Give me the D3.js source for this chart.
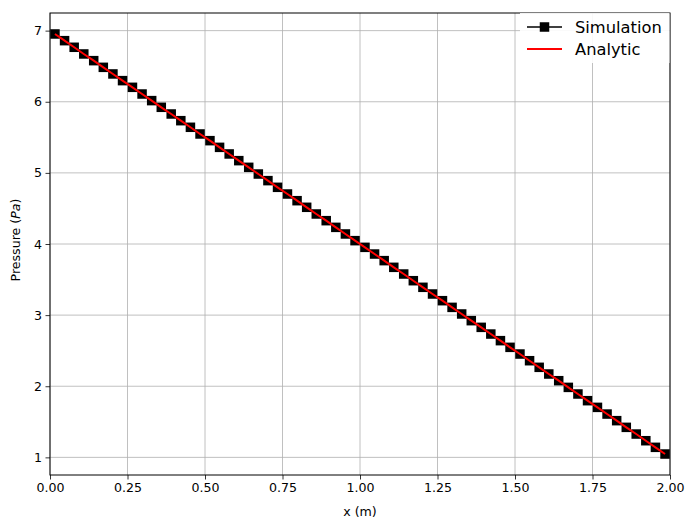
<!DOCTYPE html>
<html><head><meta charset="utf-8">
<script src="https://cdn.jsdelivr.net/npm/d3@7"></script>
<style>
html,body{margin:0;padding:0;background:#fff;}
svg{display:block;font-family:"DejaVu Sans",sans-serif;}
</style></head>
<body>
<svg id="chart" width="695" height="528"></svg>
<script>
const xPos = [0.016,0.047,0.078,0.109,0.141,0.172,0.203,0.234,0.266,0.297,0.328,0.359,0.391,0.422,0.453,0.484,
0.516,0.547,0.578,0.609,0.641,0.672,0.703,0.734,0.766,0.797,0.828,0.859,0.891,0.922,0.953,0.984,
1.016,1.047,1.078,1.109,1.141,1.172,1.203,1.234,1.266,1.297,1.328,1.359,1.391,1.422,1.453,1.484,
1.516,1.547,1.578,1.609,1.641,1.672,1.703,1.734,1.766,1.797,1.828,1.859,1.891,1.922,1.953,1.984];
const simulation = [6.953,6.859,6.766,6.672,6.578,6.484,6.391,6.297,6.203,6.109,6.016,5.922,5.828,5.734,5.641,5.547,
5.453,5.359,5.266,5.172,5.078,4.984,4.891,4.797,4.703,4.609,4.516,4.422,4.328,4.234,4.141,4.047,
3.953,3.859,3.766,3.672,3.578,3.484,3.391,3.297,3.203,3.109,3.016,2.922,2.828,2.734,2.641,2.547,
2.453,2.359,2.266,2.172,2.078,1.984,1.891,1.797,1.703,1.609,1.516,1.422,1.328,1.234,1.141,1.047];
const analytic = [6.953,6.859,6.766,6.672,6.578,6.484,6.391,6.297,6.203,6.109,6.016,5.922,5.828,5.734,5.641,5.547,
5.453,5.359,5.266,5.172,5.078,4.984,4.891,4.797,4.703,4.609,4.516,4.422,4.328,4.234,4.141,4.047,
3.953,3.859,3.766,3.672,3.578,3.484,3.391,3.297,3.203,3.109,3.016,2.922,2.828,2.734,2.641,2.547,
2.453,2.359,2.266,2.172,2.078,1.984,1.891,1.797,1.703,1.609,1.516,1.422,1.328,1.234,1.141,1.047];
const xTicks = [0,0.25,0.5,0.75,1.0,1.25,1.5,1.75,2.0];
const yTicks = [1,2,3,4,5,6,7];
const legendLabels = ["Simulation","Analytic"];

const L=50, R=670, T=13, B=475;
const svg = d3.select("#chart");
const x = d3.scaleLinear().domain([0,2]).range([L,R]);
const y = d3.scaleLinear().domain([0.752,7.248]).range([B,T]);

// grid
const grid = svg.append("g");
grid.selectAll("line.gx").data(xTicks).join("line")
  .attr("x1",d=>x(d)).attr("x2",d=>x(d)).attr("y1",T).attr("y2",B)
  .attr("stroke","#b0b0b0").attr("stroke-width",0.8);
grid.selectAll("line.gy").data(yTicks).join("line")
  .attr("y1",d=>y(d)).attr("y2",d=>y(d)).attr("x1",L).attr("x2",R)
  .attr("stroke","#b0b0b0").attr("stroke-width",0.8);

// simulation line + markers
const pts = xPos.map((v,i)=>[v,simulation[i]]);
const line = d3.line().x(d=>x(d[0])).y(d=>y(d[1]));
svg.append("path").datum(pts).attr("d",line).attr("fill","none").attr("stroke","#000").attr("stroke-width",1.5);
const ms = 9.5;
svg.append("g").selectAll("rect").data(pts).join("rect")
  .attr("x",d=>x(d[0])-ms/2).attr("y",d=>y(d[1])-ms/2).attr("width",ms).attr("height",ms)
  .attr("fill","#000");
// analytic
const apts = xPos.map((v,i)=>[v,analytic[i]]);
svg.append("path").datum(apts).attr("d",line).attr("fill","none").attr("stroke","#ff0000").attr("stroke-width",2);

// axes
const xAxis = d3.axisBottom(x).tickValues(xTicks).tickFormat(d3.format(".2f")).tickSize(4.5).tickPadding(3.5);
const yAxis = d3.axisLeft(y).tickValues(yTicks).tickFormat(d3.format("d")).tickSize(4.5).tickPadding(3.5);
const gx = svg.append("g").attr("transform",`translate(0,${B})`).call(xAxis);
const gy = svg.append("g").attr("transform",`translate(${L},0)`).call(yAxis);
[gx,gy].forEach(g=>{
  g.select(".domain").remove();
  g.selectAll("text").attr("font-size","12.6px").attr("font-family","DejaVu Sans").attr("fill","#000");
  g.selectAll("line").attr("stroke","#000").attr("stroke-width",0.8);
});
// frame
svg.append("rect").attr("x",L).attr("y",T).attr("width",R-L).attr("height",B-T)
  .attr("fill","none").attr("stroke","#000").attr("stroke-width",1);

// labels
svg.append("text").attr("x",(L+R)/2).attr("y",515.5).attr("text-anchor","middle")
  .attr("font-size","12.6px").text("x (m)");
const yl = svg.append("text").attr("transform",`translate(19.5,240) rotate(-90)`)
  .attr("text-anchor","middle").attr("font-size","12.6px");
yl.append("tspan").text("Pressure (");
yl.append("tspan").attr("font-style","italic").text("Pa");
yl.append("tspan").text(")");

// legend
const lg = svg.append("g");
lg.append("rect").attr("x",520).attr("y",T).attr("width",R-520-0.5).attr("height",50)
  .attr("fill","#fff").attr("fill-opacity",0.9);
const rows = [27,49];
lg.append("line").attr("x1",527).attr("x2",562).attr("y1",rows[0]).attr("y2",rows[0]).attr("stroke","#000").attr("stroke-width",1.5);
lg.append("rect").attr("x",544.5-ms/2).attr("y",rows[0]-ms/2).attr("width",ms).attr("height",ms).attr("fill","#000");
lg.append("line").attr("x1",527).attr("x2",562).attr("y1",rows[1]).attr("y2",rows[1]).attr("stroke","#ff0000").attr("stroke-width",2);
lg.selectAll("text").data(legendLabels).join("text")
  .attr("x",575).attr("y",(d,i)=>rows[i]+5.5).attr("font-size","16.3px").text(d=>d);
</script>
</body></html>
